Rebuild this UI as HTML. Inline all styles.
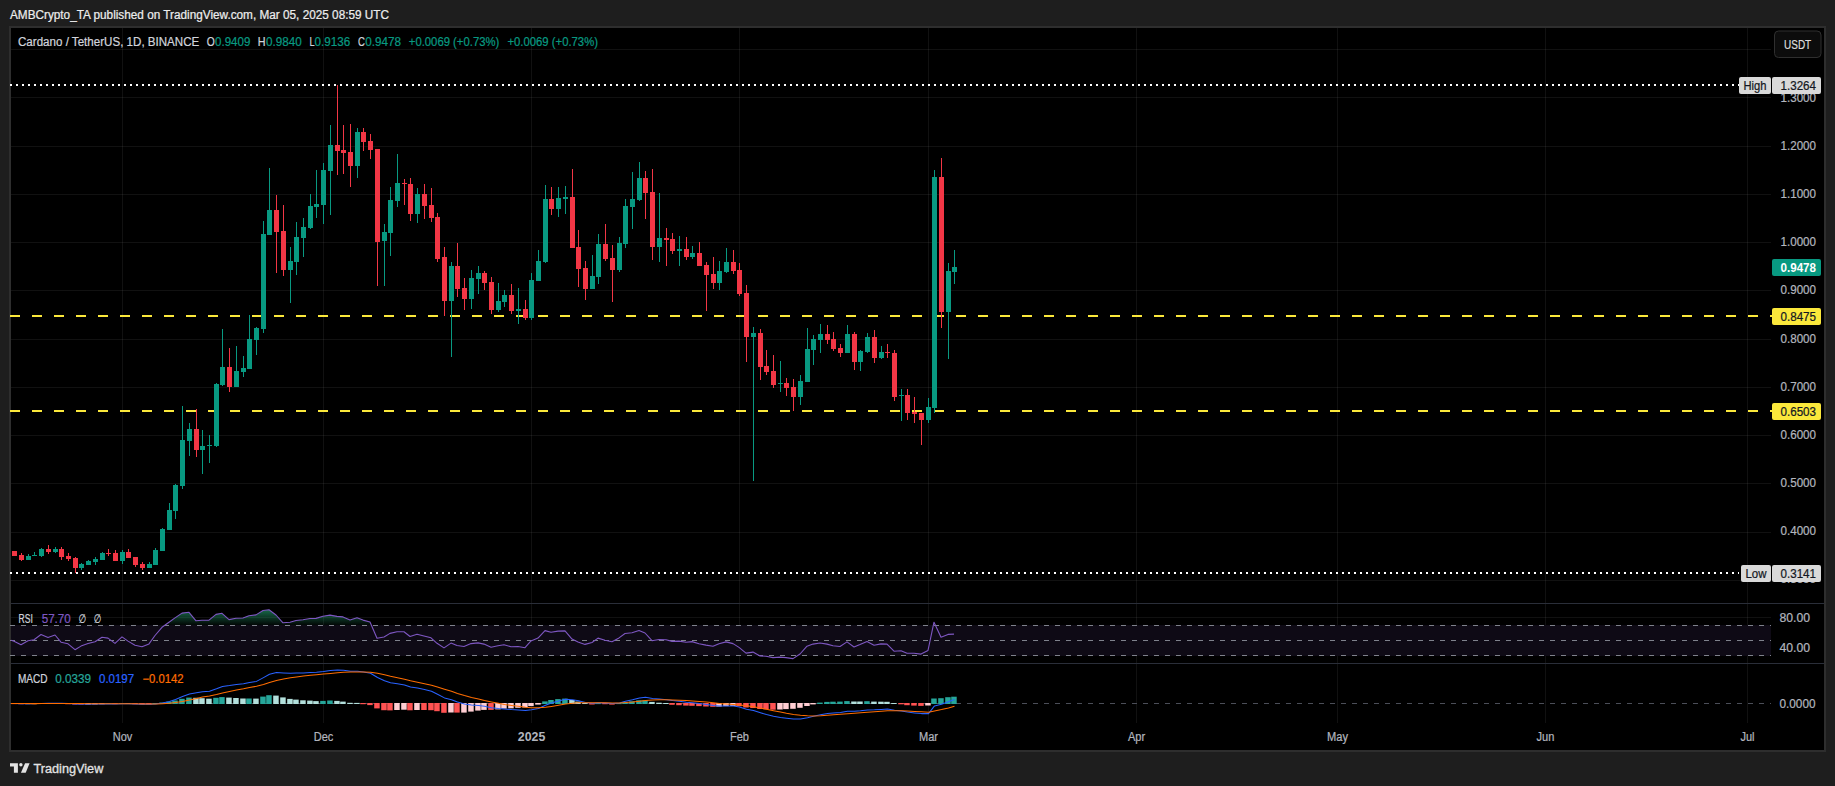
<!DOCTYPE html>
<html lang="en"><head><meta charset="utf-8"><title>Cardano / TetherUS chart</title>
<style>
html,body{margin:0;padding:0;background:#1e1e1e;overflow:hidden}
svg{display:block;font-family:'Liberation Sans', 'DejaVu Sans', sans-serif}
</style></head><body>
<svg width="1835" height="786" viewBox="0 0 1835 786">
<rect x="0" y="0" width="1835" height="786" fill="#1e1e1e"/>
<rect x="9" y="26" width="1817" height="726" fill="#2e2e2e"/>
<rect x="11" y="28" width="1813" height="722" fill="#000"/>
<g shape-rendering="crispEdges">
<rect x="122" y="28" width="1" height="695" fill="#fff" fill-opacity="0.065"/>
<rect x="323" y="28" width="1" height="695" fill="#fff" fill-opacity="0.065"/>
<rect x="531" y="28" width="1" height="695" fill="#fff" fill-opacity="0.065"/>
<rect x="739" y="28" width="1" height="695" fill="#fff" fill-opacity="0.065"/>
<rect x="928" y="28" width="1" height="695" fill="#fff" fill-opacity="0.065"/>
<rect x="1136" y="28" width="1" height="695" fill="#fff" fill-opacity="0.065"/>
<rect x="1337" y="28" width="1" height="695" fill="#fff" fill-opacity="0.065"/>
<rect x="1545" y="28" width="1" height="695" fill="#fff" fill-opacity="0.065"/>
<rect x="1747" y="28" width="1" height="695" fill="#fff" fill-opacity="0.065"/>
<rect x="11" y="49" width="1760" height="1" fill="#fff" fill-opacity="0.065"/>
<rect x="11" y="97" width="1760" height="1" fill="#fff" fill-opacity="0.065"/>
<rect x="11" y="146" width="1760" height="1" fill="#fff" fill-opacity="0.065"/>
<rect x="11" y="194" width="1760" height="1" fill="#fff" fill-opacity="0.065"/>
<rect x="11" y="242" width="1760" height="1" fill="#fff" fill-opacity="0.065"/>
<rect x="11" y="290" width="1760" height="1" fill="#fff" fill-opacity="0.065"/>
<rect x="11" y="339" width="1760" height="1" fill="#fff" fill-opacity="0.065"/>
<rect x="11" y="387" width="1760" height="1" fill="#fff" fill-opacity="0.065"/>
<rect x="11" y="435" width="1760" height="1" fill="#fff" fill-opacity="0.065"/>
<rect x="11" y="483" width="1760" height="1" fill="#fff" fill-opacity="0.065"/>
<rect x="11" y="532" width="1760" height="1" fill="#fff" fill-opacity="0.065"/>
<rect x="11" y="580" width="1760" height="1" fill="#fff" fill-opacity="0.065"/>
<rect x="11" y="617" width="1760" height="1" fill="#fff" fill-opacity="0.065"/>
<rect x="11" y="648" width="1760" height="1" fill="#fff" fill-opacity="0.065"/>
<rect x="11" y="603" width="1813" height="1" fill="#2a2e39"/>
<rect x="11" y="663" width="1813" height="1" fill="#2a2e39"/>
</g>
<rect x="11" y="625" width="1760" height="31" fill="#0e0a15"/>
<defs><linearGradient id="ob" gradientUnits="userSpaceOnUse" x1="0" y1="602.5" x2="0" y2="625.5"><stop offset="0" stop-color="#229668" stop-opacity="1"/><stop offset="1" stop-color="#229668" stop-opacity="0.03"/></linearGradient>
<clipPath id="cob"><rect x="11" y="604" width="1760" height="21.5"/></clipPath>
<linearGradient id="os" gradientUnits="userSpaceOnUse" x1="0" y1="655.4" x2="0" y2="663"><stop offset="0" stop-color="#b23b3b" stop-opacity="0.12"/><stop offset="1" stop-color="#b23b3b" stop-opacity="0.85"/></linearGradient>
<clipPath id="cos"><rect x="11" y="655.4" width="1760" height="7.6"/></clipPath></defs>
<polygon clip-path="url(#cob)" fill="url(#ob)" points="11.0,625.5 11.0,640.2 14.0,641.2 21.0,644.7 28.0,640.7 34.0,639.7 41.0,634.5 48.0,637.5 55.0,635.0 61.0,642.2 68.0,643.8 75.0,649.7 81.0,646.1 88.0,643.5 95.0,641.8 102.0,637.2 108.0,638.1 115.0,643.4 122.0,636.9 128.0,641.1 135.0,645.2 142.0,646.8 149.0,643.9 155.0,635.5 162.0,627.3 169.0,622.3 175.0,617.9 182.0,613.1 189.0,612.3 196.0,620.8 202.0,620.3 209.0,620.1 216.0,614.4 222.0,613.3 229.0,619.6 236.0,618.2 243.0,618.0 249.0,615.7 256.0,614.9 263.0,610.5 269.0,609.8 276.0,615.0 283.0,622.8 290.0,622.2 296.0,620.5 303.0,619.8 310.0,618.5 316.0,618.4 323.0,616.3 330.0,615.1 337.0,616.4 343.0,616.9 350.0,620.1 357.0,617.7 363.0,620.1 370.0,622.0 377.0,638.2 384.0,637.0 390.0,633.4 397.0,631.7 404.0,631.8 410.0,636.5 417.0,634.2 424.0,636.0 431.0,637.8 437.0,643.3 444.0,647.9 451.0,643.1 457.0,645.5 464.0,646.5 471.0,643.6 478.0,642.9 484.0,644.1 491.0,647.2 498.0,645.8 504.0,644.8 511.0,646.8 518.0,646.5 525.0,647.7 531.0,640.9 538.0,638.1 545.0,630.6 551.0,632.3 558.0,631.1 565.0,630.9 572.0,639.1 578.0,641.9 585.0,644.4 592.0,642.5 598.0,638.1 605.0,640.2 612.0,641.7 619.0,637.9 625.0,633.5 632.0,632.7 639.0,630.5 645.0,633.0 652.0,640.7 659.0,639.5 666.0,639.8 672.0,641.4 679.0,641.1 686.0,642.3 692.0,641.6 699.0,643.7 706.0,645.1 713.0,646.3 719.0,643.8 726.0,641.9 733.0,643.6 739.0,647.4 746.0,653.1 753.0,652.1 760.0,655.9 766.0,656.3 773.0,657.6 780.0,657.1 786.0,657.6 793.0,658.6 800.0,654.0 807.0,646.2 813.0,644.1 820.0,643.0 827.0,644.1 833.0,645.8 840.0,646.5 847.0,641.9 854.0,647.0 860.0,644.5 867.0,641.4 874.0,645.2 881.0,643.9 887.0,644.1 894.0,651.2 901.0,650.7 907.0,653.2 914.0,653.3 921.0,654.1 928.0,650.4 934.0,622.2 941.0,637.2 948.0,634.4 954.0,634.1 954.0,625.5"/>
<line x1="10" x2="1771" y1="625.5" y2="625.5" stroke="#7f828c" stroke-width="1" stroke-dasharray="5 6"/>
<line x1="10" x2="1771" y1="640.5" y2="640.5" stroke="#7f828c" stroke-width="1" stroke-dasharray="5 6"/>
<line x1="10" x2="1771" y1="655.5" y2="655.5" stroke="#7f828c" stroke-width="1" stroke-dasharray="5 6"/>
<polyline fill="none" stroke="#7e57c2" stroke-width="1.1" stroke-linejoin="round" points="11.0,640.2 14.0,641.2 21.0,644.7 28.0,640.7 34.0,639.7 41.0,634.5 48.0,637.5 55.0,635.0 61.0,642.2 68.0,643.8 75.0,649.7 81.0,646.1 88.0,643.5 95.0,641.8 102.0,637.2 108.0,638.1 115.0,643.4 122.0,636.9 128.0,641.1 135.0,645.2 142.0,646.8 149.0,643.9 155.0,635.5 162.0,627.3 169.0,622.3 175.0,617.9 182.0,613.1 189.0,612.3 196.0,620.8 202.0,620.3 209.0,620.1 216.0,614.4 222.0,613.3 229.0,619.6 236.0,618.2 243.0,618.0 249.0,615.7 256.0,614.9 263.0,610.5 269.0,609.8 276.0,615.0 283.0,622.8 290.0,622.2 296.0,620.5 303.0,619.8 310.0,618.5 316.0,618.4 323.0,616.3 330.0,615.1 337.0,616.4 343.0,616.9 350.0,620.1 357.0,617.7 363.0,620.1 370.0,622.0 377.0,638.2 384.0,637.0 390.0,633.4 397.0,631.7 404.0,631.8 410.0,636.5 417.0,634.2 424.0,636.0 431.0,637.8 437.0,643.3 444.0,647.9 451.0,643.1 457.0,645.5 464.0,646.5 471.0,643.6 478.0,642.9 484.0,644.1 491.0,647.2 498.0,645.8 504.0,644.8 511.0,646.8 518.0,646.5 525.0,647.7 531.0,640.9 538.0,638.1 545.0,630.6 551.0,632.3 558.0,631.1 565.0,630.9 572.0,639.1 578.0,641.9 585.0,644.4 592.0,642.5 598.0,638.1 605.0,640.2 612.0,641.7 619.0,637.9 625.0,633.5 632.0,632.7 639.0,630.5 645.0,633.0 652.0,640.7 659.0,639.5 666.0,639.8 672.0,641.4 679.0,641.1 686.0,642.3 692.0,641.6 699.0,643.7 706.0,645.1 713.0,646.3 719.0,643.8 726.0,641.9 733.0,643.6 739.0,647.4 746.0,653.1 753.0,652.1 760.0,655.9 766.0,656.3 773.0,657.6 780.0,657.1 786.0,657.6 793.0,658.6 800.0,654.0 807.0,646.2 813.0,644.1 820.0,643.0 827.0,644.1 833.0,645.8 840.0,646.5 847.0,641.9 854.0,647.0 860.0,644.5 867.0,641.4 874.0,645.2 881.0,643.9 887.0,644.1 894.0,651.2 901.0,650.7 907.0,653.2 914.0,653.3 921.0,654.1 928.0,650.4 934.0,622.2 941.0,637.2 948.0,634.4 954.0,634.1"/>
<line x1="10" x2="1771" y1="703.5" y2="703.5" stroke="#4b4e58" stroke-width="1" stroke-dasharray="5 6"/>
<g>
<rect x="11.2" y="703.0" width="5.5" height="1.1" fill="#ff5252"/>
<rect x="18.2" y="703.0" width="5.5" height="1.2" fill="#ff5252"/>
<rect x="25.2" y="703.0" width="5.5" height="1.2" fill="#ffcdd2"/>
<rect x="31.2" y="703.0" width="5.5" height="1.2" fill="#ffcdd2"/>
<rect x="38.2" y="703.0" width="5.5" height="1.0" fill="#26a69a"/>
<rect x="45.2" y="703.0" width="5.5" height="1.0" fill="#26a69a"/>
<rect x="52.2" y="703.0" width="5.5" height="1.0" fill="#26a69a"/>
<rect x="58.2" y="703.0" width="5.5" height="1.0" fill="#b2dfdb"/>
<rect x="65.2" y="703.0" width="5.5" height="1.2" fill="#ff5252"/>
<rect x="72.2" y="703.0" width="5.5" height="1.5" fill="#ff5252"/>
<rect x="78.2" y="703.0" width="5.5" height="1.6" fill="#ff5252"/>
<rect x="85.2" y="703.0" width="5.5" height="1.5" fill="#ffcdd2"/>
<rect x="92.2" y="703.0" width="5.5" height="1.4" fill="#ffcdd2"/>
<rect x="99.2" y="703.0" width="5.5" height="1.2" fill="#ffcdd2"/>
<rect x="105.2" y="703.0" width="5.5" height="1.0" fill="#26a69a"/>
<rect x="112.2" y="703.0" width="5.5" height="1.1" fill="#ff5252"/>
<rect x="119.2" y="703.0" width="5.5" height="1.0" fill="#26a69a"/>
<rect x="125.2" y="703.0" width="5.5" height="1.0" fill="#b2dfdb"/>
<rect x="132.2" y="703.0" width="5.5" height="1.2" fill="#ff5252"/>
<rect x="139.2" y="703.0" width="5.5" height="1.4" fill="#ff5252"/>
<rect x="146.2" y="703.0" width="5.5" height="1.4" fill="#ff5252"/>
<rect x="152.2" y="703.0" width="5.5" height="1.0" fill="#26a69a"/>
<rect x="159.2" y="702.6" width="5.5" height="1.4" fill="#26a69a"/>
<rect x="166.2" y="701.7" width="5.5" height="2.3" fill="#26a69a"/>
<rect x="172.2" y="700.5" width="5.5" height="3.5" fill="#26a69a"/>
<rect x="179.2" y="698.8" width="5.5" height="5.2" fill="#26a69a"/>
<rect x="186.2" y="697.6" width="5.5" height="6.4" fill="#26a69a"/>
<rect x="193.2" y="697.8" width="5.5" height="6.2" fill="#b2dfdb"/>
<rect x="199.2" y="698.2" width="5.5" height="5.8" fill="#b2dfdb"/>
<rect x="206.2" y="698.7" width="5.5" height="5.3" fill="#b2dfdb"/>
<rect x="213.2" y="697.8" width="5.5" height="6.2" fill="#26a69a"/>
<rect x="219.2" y="697.1" width="5.5" height="6.9" fill="#26a69a"/>
<rect x="226.2" y="697.6" width="5.5" height="6.4" fill="#b2dfdb"/>
<rect x="233.2" y="698.0" width="5.5" height="6.0" fill="#b2dfdb"/>
<rect x="240.2" y="698.5" width="5.5" height="5.5" fill="#b2dfdb"/>
<rect x="246.2" y="698.5" width="5.5" height="5.5" fill="#26a69a"/>
<rect x="253.2" y="698.6" width="5.5" height="5.4" fill="#b2dfdb"/>
<rect x="260.2" y="696.6" width="5.5" height="7.4" fill="#26a69a"/>
<rect x="266.2" y="695.2" width="5.5" height="8.8" fill="#26a69a"/>
<rect x="273.2" y="695.6" width="5.5" height="8.4" fill="#b2dfdb"/>
<rect x="280.2" y="697.4" width="5.5" height="6.6" fill="#b2dfdb"/>
<rect x="287.2" y="698.9" width="5.5" height="5.1" fill="#b2dfdb"/>
<rect x="293.2" y="699.6" width="5.5" height="4.4" fill="#b2dfdb"/>
<rect x="300.2" y="700.3" width="5.5" height="3.7" fill="#b2dfdb"/>
<rect x="307.2" y="700.6" width="5.5" height="3.4" fill="#b2dfdb"/>
<rect x="313.2" y="701.1" width="5.5" height="2.9" fill="#b2dfdb"/>
<rect x="320.2" y="700.9" width="5.5" height="3.1" fill="#26a69a"/>
<rect x="327.2" y="700.5" width="5.5" height="3.5" fill="#26a69a"/>
<rect x="334.2" y="700.9" width="5.5" height="3.1" fill="#b2dfdb"/>
<rect x="340.2" y="701.6" width="5.5" height="2.4" fill="#b2dfdb"/>
<rect x="347.2" y="702.8" width="5.5" height="1.2" fill="#b2dfdb"/>
<rect x="354.2" y="702.9" width="5.5" height="1.1" fill="#b2dfdb"/>
<rect x="360.2" y="703.0" width="5.5" height="1.2" fill="#ff5252"/>
<rect x="367.2" y="703.0" width="5.5" height="2.1" fill="#ff5252"/>
<rect x="374.2" y="703.0" width="5.5" height="5.4" fill="#ff5252"/>
<rect x="381.2" y="703.0" width="5.5" height="7.2" fill="#ff5252"/>
<rect x="387.2" y="703.0" width="5.5" height="7.4" fill="#ff5252"/>
<rect x="394.2" y="703.0" width="5.5" height="7.0" fill="#ffcdd2"/>
<rect x="401.2" y="703.0" width="5.5" height="6.7" fill="#ffcdd2"/>
<rect x="407.2" y="703.0" width="5.5" height="7.3" fill="#ff5252"/>
<rect x="414.2" y="703.0" width="5.5" height="7.0" fill="#ffcdd2"/>
<rect x="421.2" y="703.0" width="5.5" height="7.0" fill="#ff5252"/>
<rect x="428.2" y="703.0" width="5.5" height="7.2" fill="#ff5252"/>
<rect x="434.2" y="703.0" width="5.5" height="8.2" fill="#ff5252"/>
<rect x="441.2" y="703.0" width="5.5" height="9.8" fill="#ff5252"/>
<rect x="448.2" y="703.0" width="5.5" height="9.5" fill="#ffcdd2"/>
<rect x="454.2" y="703.0" width="5.5" height="9.6" fill="#ff5252"/>
<rect x="461.2" y="703.0" width="5.5" height="9.6" fill="#ffcdd2"/>
<rect x="468.2" y="703.0" width="5.5" height="8.6" fill="#ffcdd2"/>
<rect x="475.2" y="703.0" width="5.5" height="7.6" fill="#ffcdd2"/>
<rect x="481.2" y="703.0" width="5.5" height="6.9" fill="#ffcdd2"/>
<rect x="488.2" y="703.0" width="5.5" height="6.9" fill="#ff5252"/>
<rect x="495.2" y="703.0" width="5.5" height="6.4" fill="#ffcdd2"/>
<rect x="501.2" y="703.0" width="5.5" height="5.6" fill="#ffcdd2"/>
<rect x="508.2" y="703.0" width="5.5" height="5.3" fill="#ffcdd2"/>
<rect x="515.2" y="703.0" width="5.5" height="4.8" fill="#ffcdd2"/>
<rect x="522.2" y="703.0" width="5.5" height="4.5" fill="#ffcdd2"/>
<rect x="528.2" y="703.0" width="5.5" height="3.1" fill="#ffcdd2"/>
<rect x="535.2" y="703.0" width="5.5" height="1.6" fill="#ffcdd2"/>
<rect x="542.2" y="701.4" width="5.5" height="2.6" fill="#26a69a"/>
<rect x="548.2" y="700.0" width="5.5" height="4.0" fill="#26a69a"/>
<rect x="555.2" y="699.1" width="5.5" height="4.9" fill="#26a69a"/>
<rect x="562.2" y="698.6" width="5.5" height="5.4" fill="#26a69a"/>
<rect x="569.2" y="700.0" width="5.5" height="4.0" fill="#b2dfdb"/>
<rect x="575.2" y="701.6" width="5.5" height="2.4" fill="#b2dfdb"/>
<rect x="582.2" y="703.0" width="5.5" height="1.0" fill="#b2dfdb"/>
<rect x="589.2" y="703.0" width="5.5" height="1.5" fill="#ff5252"/>
<rect x="595.2" y="703.0" width="5.5" height="1.1" fill="#26a69a"/>
<rect x="602.2" y="703.0" width="5.5" height="1.2" fill="#ff5252"/>
<rect x="609.2" y="703.0" width="5.5" height="1.6" fill="#ff5252"/>
<rect x="616.2" y="703.0" width="5.5" height="1.1" fill="#26a69a"/>
<rect x="622.2" y="702.2" width="5.5" height="1.8" fill="#26a69a"/>
<rect x="629.2" y="701.3" width="5.5" height="2.7" fill="#26a69a"/>
<rect x="636.2" y="700.3" width="5.5" height="3.7" fill="#26a69a"/>
<rect x="642.2" y="700.3" width="5.5" height="3.7" fill="#26a69a"/>
<rect x="649.2" y="701.9" width="5.5" height="2.1" fill="#b2dfdb"/>
<rect x="656.2" y="702.7" width="5.5" height="1.3" fill="#b2dfdb"/>
<rect x="663.2" y="703.0" width="5.5" height="1.0" fill="#b2dfdb"/>
<rect x="669.2" y="703.0" width="5.5" height="1.8" fill="#ff5252"/>
<rect x="676.2" y="703.0" width="5.5" height="2.2" fill="#ff5252"/>
<rect x="683.2" y="703.0" width="5.5" height="2.6" fill="#ff5252"/>
<rect x="689.2" y="703.0" width="5.5" height="2.8" fill="#ff5252"/>
<rect x="696.2" y="703.0" width="5.5" height="3.1" fill="#ff5252"/>
<rect x="703.2" y="703.0" width="5.5" height="3.5" fill="#ff5252"/>
<rect x="710.2" y="703.0" width="5.5" height="3.8" fill="#ff5252"/>
<rect x="716.2" y="703.0" width="5.5" height="3.6" fill="#ffcdd2"/>
<rect x="723.2" y="703.0" width="5.5" height="3.1" fill="#ffcdd2"/>
<rect x="730.2" y="703.0" width="5.5" height="2.9" fill="#ffcdd2"/>
<rect x="736.2" y="703.0" width="5.5" height="3.2" fill="#ff5252"/>
<rect x="743.2" y="703.0" width="5.5" height="4.5" fill="#ff5252"/>
<rect x="750.2" y="703.0" width="5.5" height="5.0" fill="#ff5252"/>
<rect x="757.2" y="703.0" width="5.5" height="6.0" fill="#ff5252"/>
<rect x="763.2" y="703.0" width="5.5" height="6.4" fill="#ff5252"/>
<rect x="770.2" y="703.0" width="5.5" height="6.7" fill="#ff5252"/>
<rect x="777.2" y="703.0" width="5.5" height="6.5" fill="#ffcdd2"/>
<rect x="783.2" y="703.0" width="5.5" height="6.1" fill="#ffcdd2"/>
<rect x="790.2" y="703.0" width="5.5" height="5.8" fill="#ffcdd2"/>
<rect x="797.2" y="703.0" width="5.5" height="4.8" fill="#ffcdd2"/>
<rect x="804.2" y="703.0" width="5.5" height="3.0" fill="#ffcdd2"/>
<rect x="810.2" y="703.0" width="5.5" height="1.4" fill="#ffcdd2"/>
<rect x="817.2" y="702.6" width="5.5" height="1.4" fill="#26a69a"/>
<rect x="824.2" y="701.9" width="5.5" height="2.1" fill="#26a69a"/>
<rect x="830.2" y="701.7" width="5.5" height="2.3" fill="#26a69a"/>
<rect x="837.2" y="701.6" width="5.5" height="2.4" fill="#26a69a"/>
<rect x="844.2" y="701.1" width="5.5" height="2.9" fill="#26a69a"/>
<rect x="851.2" y="701.5" width="5.5" height="2.5" fill="#b2dfdb"/>
<rect x="857.2" y="701.5" width="5.5" height="2.5" fill="#b2dfdb"/>
<rect x="864.2" y="701.2" width="5.5" height="2.8" fill="#26a69a"/>
<rect x="871.2" y="701.6" width="5.5" height="2.4" fill="#b2dfdb"/>
<rect x="878.2" y="701.7" width="5.5" height="2.3" fill="#b2dfdb"/>
<rect x="884.2" y="701.8" width="5.5" height="2.2" fill="#b2dfdb"/>
<rect x="891.2" y="703.0" width="5.5" height="1.0" fill="#b2dfdb"/>
<rect x="898.2" y="703.0" width="5.5" height="1.3" fill="#ff5252"/>
<rect x="904.2" y="703.0" width="5.5" height="2.2" fill="#ff5252"/>
<rect x="911.2" y="703.0" width="5.5" height="2.6" fill="#ff5252"/>
<rect x="918.2" y="703.0" width="5.5" height="2.9" fill="#ff5252"/>
<rect x="925.2" y="703.0" width="5.5" height="2.5" fill="#ffcdd2"/>
<rect x="931.2" y="698.5" width="5.5" height="5.5" fill="#26a69a"/>
<rect x="938.2" y="698.2" width="5.5" height="5.8" fill="#26a69a"/>
<rect x="945.2" y="697.2" width="5.5" height="6.8" fill="#26a69a"/>
<rect x="951.2" y="696.7" width="5.5" height="7.3" fill="#26a69a"/>
</g>
<polyline fill="none" stroke="#2962ff" stroke-width="1.05" stroke-linejoin="round" points="11,703.5 14.5,703.5 21.5,703.7 28.5,703.7 34.5,703.6 41.5,703.4 48.5,703.3 55.5,703.2 61.5,703.3 68.5,703.5 75.5,703.9 81.5,704.1 88.5,704.2 95.5,704.1 102.5,703.9 108.5,703.8 115.5,703.9 122.5,703.7 128.5,703.7 135.5,703.9 142.5,704.2 149.5,704.3 155.5,703.9 162.5,702.9 169.5,701.5 175.5,699.6 182.5,696.6 189.5,694.0 196.5,692.8 202.5,691.8 209.5,691.2 216.5,688.8 222.5,686.5 229.5,685.6 236.5,684.5 243.5,683.8 249.5,682.5 256.5,681.4 263.5,677.6 269.5,674.2 276.5,672.6 283.5,672.9 290.5,673.2 296.5,673.0 303.5,672.9 310.5,672.4 316.5,672.3 323.5,671.5 330.5,670.4 337.5,670.1 343.5,670.3 350.5,671.3 357.5,671.3 363.5,672.0 370.5,673.2 377.5,677.5 384.5,680.8 390.5,682.7 397.5,683.8 404.5,684.9 410.5,687.0 417.5,688.1 424.5,689.6 431.5,691.3 437.5,694.2 444.5,697.9 451.5,699.7 457.5,701.9 464.5,704.0 471.5,705.0 478.5,705.5 484.5,706.3 491.5,707.7 498.5,708.5 504.5,708.9 511.5,709.6 518.5,710.1 525.5,710.6 531.5,709.8 538.5,708.4 545.5,705.2 551.5,703.0 558.5,700.9 565.5,699.3 572.5,699.7 578.5,700.8 585.5,702.4 592.5,703.2 598.5,702.7 605.5,702.9 612.5,703.4 619.5,702.9 625.5,701.3 632.5,699.8 639.5,698.0 645.5,697.2 652.5,698.4 659.5,699.1 666.5,699.7 672.5,700.6 679.5,701.3 686.5,702.2 692.5,702.7 699.5,703.6 706.5,704.5 713.5,705.5 719.5,705.9 726.5,705.9 733.5,706.1 739.5,707.0 746.5,709.2 753.5,710.6 760.5,712.8 766.5,714.6 773.5,716.2 780.5,717.4 786.5,718.2 793.5,719.1 800.5,719.0 807.5,717.7 813.5,716.2 820.5,714.7 827.5,713.6 833.5,713.0 840.5,712.4 847.5,711.3 854.5,711.3 860.5,710.8 867.5,709.9 874.5,709.8 881.5,709.4 887.5,709.1 894.5,710.2 901.5,711.0 907.5,712.1 914.5,712.9 921.5,713.6 928.5,713.6 934.5,705.9 941.5,704.3 948.5,701.7 954.5,699.6"/>
<polyline fill="none" stroke="#ff6d00" stroke-width="1.05" stroke-linejoin="round" points="11,703.5 14.5,703.5 21.5,703.5 28.5,703.6 34.5,703.6 41.5,703.5 48.5,703.5 55.5,703.4 61.5,703.4 68.5,703.4 75.5,703.5 81.5,703.6 88.5,703.7 95.5,703.8 102.5,703.8 108.5,703.8 115.5,703.8 122.5,703.8 128.5,703.8 135.5,703.8 142.5,703.9 149.5,704.0 155.5,704.0 162.5,703.7 169.5,703.3 175.5,702.5 182.5,701.4 189.5,699.9 196.5,698.5 202.5,697.1 209.5,695.9 216.5,694.5 222.5,692.9 229.5,691.4 236.5,690.1 243.5,688.8 249.5,687.5 256.5,686.3 263.5,684.6 269.5,682.5 276.5,680.5 283.5,679.0 290.5,677.8 296.5,676.9 303.5,676.1 310.5,675.3 316.5,674.7 323.5,674.1 330.5,673.4 337.5,672.7 343.5,672.2 350.5,672.0 357.5,671.9 363.5,671.9 370.5,672.2 377.5,673.2 384.5,674.8 390.5,676.3 397.5,677.8 404.5,679.2 410.5,680.8 417.5,682.2 424.5,683.7 431.5,685.2 437.5,687.0 444.5,689.2 451.5,691.3 457.5,693.4 464.5,695.5 471.5,697.4 478.5,699.0 484.5,700.5 491.5,701.9 498.5,703.2 504.5,704.4 511.5,705.4 518.5,706.3 525.5,707.2 531.5,707.7 538.5,707.8 545.5,707.3 551.5,706.4 558.5,705.3 565.5,704.1 572.5,703.2 578.5,702.7 585.5,702.7 592.5,702.8 598.5,702.8 605.5,702.8 612.5,702.9 619.5,702.9 625.5,702.6 632.5,702.0 639.5,701.2 645.5,700.4 652.5,700.0 659.5,699.8 666.5,699.8 672.5,700.0 679.5,700.2 686.5,700.6 692.5,701.0 699.5,701.5 706.5,702.1 713.5,702.8 719.5,703.4 726.5,703.9 733.5,704.4 739.5,704.9 746.5,705.8 753.5,706.7 760.5,707.9 766.5,709.3 773.5,710.7 780.5,712.0 786.5,713.2 793.5,714.4 800.5,715.3 807.5,715.8 813.5,715.9 820.5,715.7 827.5,715.2 833.5,714.8 840.5,714.3 847.5,713.7 854.5,713.2 860.5,712.7 867.5,712.2 874.5,711.7 881.5,711.2 887.5,710.8 894.5,710.7 901.5,710.8 907.5,711.0 914.5,711.4 921.5,711.8 928.5,712.2 934.5,710.9 941.5,709.6 948.5,708.0 954.5,706.3"/>
<g shape-rendering="crispEdges">
<line x1="10" x2="1739" y1="85" y2="85" stroke="#fff" stroke-width="2" stroke-dasharray="2 4"/>
<line x1="10" x2="1739" y1="573" y2="573" stroke="#fff" stroke-width="2" stroke-dasharray="2 4"/>
<line x1="10" x2="1772" y1="316" y2="316" stroke="#fbe83b" stroke-width="2" stroke-dasharray="10 12"/>
<line x1="10" x2="1772" y1="411" y2="411" stroke="#fbe83b" stroke-width="2" stroke-dasharray="10 12"/>
<rect x="14" y="551" width="1" height="5" fill="#f23645"/>
<rect x="12" y="551" width="5" height="5" fill="#f23645"/>
<rect x="21" y="553" width="1" height="8" fill="#f23645"/>
<rect x="19" y="555" width="5" height="5" fill="#f23645"/>
<rect x="28" y="554" width="1" height="6" fill="#089981"/>
<rect x="26" y="556" width="5" height="4" fill="#089981"/>
<rect x="34" y="552" width="1" height="4" fill="#089981"/>
<rect x="32" y="555" width="5" height="1" fill="#089981"/>
<rect x="41" y="548" width="1" height="9" fill="#089981"/>
<rect x="39" y="549" width="5" height="7" fill="#089981"/>
<rect x="48" y="545" width="1" height="9" fill="#f23645"/>
<rect x="46" y="549" width="5" height="3" fill="#f23645"/>
<rect x="55" y="547" width="1" height="6" fill="#089981"/>
<rect x="53" y="549" width="5" height="3" fill="#089981"/>
<rect x="61" y="547" width="1" height="13" fill="#f23645"/>
<rect x="59" y="549" width="5" height="8" fill="#f23645"/>
<rect x="68" y="553" width="1" height="8" fill="#f23645"/>
<rect x="66" y="556" width="5" height="3" fill="#f23645"/>
<rect x="75" y="557" width="1" height="16" fill="#f23645"/>
<rect x="73" y="558" width="5" height="10" fill="#f23645"/>
<rect x="81" y="563" width="1" height="7" fill="#089981"/>
<rect x="79" y="564" width="5" height="4" fill="#089981"/>
<rect x="88" y="560" width="1" height="5" fill="#089981"/>
<rect x="86" y="561" width="5" height="4" fill="#089981"/>
<rect x="95" y="557" width="1" height="8" fill="#089981"/>
<rect x="93" y="559" width="5" height="3" fill="#089981"/>
<rect x="102" y="552" width="1" height="8" fill="#089981"/>
<rect x="100" y="553" width="5" height="7" fill="#089981"/>
<rect x="108" y="549" width="1" height="7" fill="#f23645"/>
<rect x="106" y="553" width="5" height="1" fill="#f23645"/>
<rect x="115" y="550" width="1" height="11" fill="#f23645"/>
<rect x="113" y="553" width="5" height="8" fill="#f23645"/>
<rect x="122" y="550" width="1" height="14" fill="#089981"/>
<rect x="120" y="552" width="5" height="9" fill="#089981"/>
<rect x="128" y="549" width="1" height="9" fill="#f23645"/>
<rect x="126" y="552" width="5" height="6" fill="#f23645"/>
<rect x="135" y="557" width="1" height="10" fill="#f23645"/>
<rect x="133" y="557" width="5" height="8" fill="#f23645"/>
<rect x="142" y="562" width="1" height="8" fill="#f23645"/>
<rect x="140" y="564" width="5" height="4" fill="#f23645"/>
<rect x="149" y="562" width="1" height="6" fill="#089981"/>
<rect x="147" y="564" width="5" height="4" fill="#089981"/>
<rect x="155" y="548" width="1" height="17" fill="#089981"/>
<rect x="153" y="550" width="5" height="15" fill="#089981"/>
<rect x="162" y="528" width="1" height="23" fill="#089981"/>
<rect x="160" y="529" width="5" height="22" fill="#089981"/>
<rect x="169" y="503" width="1" height="27" fill="#089981"/>
<rect x="167" y="510" width="5" height="20" fill="#089981"/>
<rect x="175" y="484" width="1" height="35" fill="#089981"/>
<rect x="173" y="485" width="5" height="26" fill="#089981"/>
<rect x="182" y="406" width="1" height="83" fill="#089981"/>
<rect x="180" y="440" width="5" height="46" fill="#089981"/>
<rect x="189" y="423" width="1" height="33" fill="#089981"/>
<rect x="187" y="429" width="5" height="12" fill="#089981"/>
<rect x="196" y="409" width="1" height="48" fill="#f23645"/>
<rect x="194" y="429" width="5" height="21" fill="#f23645"/>
<rect x="202" y="430" width="1" height="44" fill="#089981"/>
<rect x="200" y="446" width="5" height="4" fill="#089981"/>
<rect x="209" y="435" width="1" height="28" fill="#089981"/>
<rect x="207" y="445" width="5" height="1" fill="#089981"/>
<rect x="216" y="383" width="1" height="64" fill="#089981"/>
<rect x="214" y="384" width="5" height="62" fill="#089981"/>
<rect x="222" y="329" width="1" height="57" fill="#089981"/>
<rect x="220" y="367" width="5" height="18" fill="#089981"/>
<rect x="229" y="348" width="1" height="44" fill="#f23645"/>
<rect x="227" y="367" width="5" height="20" fill="#f23645"/>
<rect x="236" y="346" width="1" height="41" fill="#089981"/>
<rect x="234" y="371" width="5" height="16" fill="#089981"/>
<rect x="243" y="356" width="1" height="21" fill="#089981"/>
<rect x="241" y="368" width="5" height="4" fill="#089981"/>
<rect x="249" y="315" width="1" height="54" fill="#089981"/>
<rect x="247" y="339" width="5" height="30" fill="#089981"/>
<rect x="256" y="327" width="1" height="28" fill="#089981"/>
<rect x="254" y="328" width="5" height="12" fill="#089981"/>
<rect x="263" y="221" width="1" height="112" fill="#089981"/>
<rect x="261" y="234" width="5" height="95" fill="#089981"/>
<rect x="269" y="168" width="1" height="67" fill="#089981"/>
<rect x="267" y="210" width="5" height="25" fill="#089981"/>
<rect x="276" y="195" width="1" height="78" fill="#f23645"/>
<rect x="274" y="210" width="5" height="22" fill="#f23645"/>
<rect x="283" y="205" width="1" height="71" fill="#f23645"/>
<rect x="281" y="231" width="5" height="39" fill="#f23645"/>
<rect x="290" y="247" width="1" height="56" fill="#089981"/>
<rect x="288" y="261" width="5" height="9" fill="#089981"/>
<rect x="296" y="222" width="1" height="53" fill="#089981"/>
<rect x="294" y="237" width="5" height="25" fill="#089981"/>
<rect x="303" y="218" width="1" height="39" fill="#089981"/>
<rect x="301" y="227" width="5" height="11" fill="#089981"/>
<rect x="310" y="194" width="1" height="35" fill="#089981"/>
<rect x="308" y="206" width="5" height="22" fill="#089981"/>
<rect x="316" y="170" width="1" height="48" fill="#089981"/>
<rect x="314" y="204" width="5" height="3" fill="#089981"/>
<rect x="323" y="163" width="1" height="61" fill="#089981"/>
<rect x="321" y="170" width="5" height="35" fill="#089981"/>
<rect x="330" y="125" width="1" height="90" fill="#089981"/>
<rect x="328" y="145" width="5" height="26" fill="#089981"/>
<rect x="337" y="85" width="1" height="90" fill="#f23645"/>
<rect x="335" y="145" width="5" height="6" fill="#f23645"/>
<rect x="343" y="125" width="1" height="49" fill="#f23645"/>
<rect x="341" y="150" width="5" height="3" fill="#f23645"/>
<rect x="350" y="124" width="1" height="63" fill="#f23645"/>
<rect x="348" y="152" width="5" height="14" fill="#f23645"/>
<rect x="357" y="128" width="1" height="50" fill="#089981"/>
<rect x="355" y="132" width="5" height="34" fill="#089981"/>
<rect x="363" y="128" width="1" height="23" fill="#f23645"/>
<rect x="361" y="132" width="5" height="10" fill="#f23645"/>
<rect x="370" y="134" width="1" height="25" fill="#f23645"/>
<rect x="368" y="141" width="5" height="9" fill="#f23645"/>
<rect x="377" y="149" width="1" height="137" fill="#f23645"/>
<rect x="375" y="149" width="5" height="93" fill="#f23645"/>
<rect x="384" y="224" width="1" height="62" fill="#089981"/>
<rect x="382" y="232" width="5" height="9" fill="#089981"/>
<rect x="390" y="187" width="1" height="69" fill="#089981"/>
<rect x="388" y="200" width="5" height="33" fill="#089981"/>
<rect x="397" y="154" width="1" height="53" fill="#089981"/>
<rect x="395" y="183" width="5" height="18" fill="#089981"/>
<rect x="404" y="179" width="1" height="26" fill="#f23645"/>
<rect x="402" y="183" width="5" height="1" fill="#f23645"/>
<rect x="410" y="178" width="1" height="43" fill="#f23645"/>
<rect x="408" y="184" width="5" height="30" fill="#f23645"/>
<rect x="417" y="188" width="1" height="35" fill="#089981"/>
<rect x="415" y="194" width="5" height="20" fill="#089981"/>
<rect x="424" y="184" width="1" height="35" fill="#f23645"/>
<rect x="422" y="194" width="5" height="12" fill="#f23645"/>
<rect x="431" y="188" width="1" height="34" fill="#f23645"/>
<rect x="429" y="205" width="5" height="13" fill="#f23645"/>
<rect x="437" y="213" width="1" height="49" fill="#f23645"/>
<rect x="435" y="217" width="5" height="42" fill="#f23645"/>
<rect x="444" y="247" width="1" height="69" fill="#f23645"/>
<rect x="442" y="257" width="5" height="44" fill="#f23645"/>
<rect x="451" y="262" width="1" height="95" fill="#089981"/>
<rect x="449" y="266" width="5" height="35" fill="#089981"/>
<rect x="457" y="243" width="1" height="54" fill="#f23645"/>
<rect x="455" y="266" width="5" height="23" fill="#f23645"/>
<rect x="464" y="278" width="1" height="32" fill="#f23645"/>
<rect x="462" y="288" width="5" height="11" fill="#f23645"/>
<rect x="471" y="270" width="1" height="39" fill="#089981"/>
<rect x="469" y="278" width="5" height="21" fill="#089981"/>
<rect x="478" y="266" width="1" height="28" fill="#089981"/>
<rect x="476" y="273" width="5" height="6" fill="#089981"/>
<rect x="484" y="271" width="1" height="19" fill="#f23645"/>
<rect x="482" y="273" width="5" height="10" fill="#f23645"/>
<rect x="491" y="277" width="1" height="37" fill="#f23645"/>
<rect x="489" y="282" width="5" height="28" fill="#f23645"/>
<rect x="498" y="283" width="1" height="29" fill="#089981"/>
<rect x="496" y="301" width="5" height="9" fill="#089981"/>
<rect x="504" y="290" width="1" height="17" fill="#089981"/>
<rect x="502" y="295" width="5" height="7" fill="#089981"/>
<rect x="511" y="284" width="1" height="30" fill="#f23645"/>
<rect x="509" y="295" width="5" height="16" fill="#f23645"/>
<rect x="518" y="288" width="1" height="36" fill="#089981"/>
<rect x="516" y="309" width="5" height="2" fill="#089981"/>
<rect x="525" y="300" width="1" height="20" fill="#f23645"/>
<rect x="523" y="309" width="5" height="9" fill="#f23645"/>
<rect x="531" y="273" width="1" height="47" fill="#089981"/>
<rect x="529" y="280" width="5" height="38" fill="#089981"/>
<rect x="538" y="250" width="1" height="31" fill="#089981"/>
<rect x="536" y="261" width="5" height="20" fill="#089981"/>
<rect x="545" y="185" width="1" height="78" fill="#089981"/>
<rect x="543" y="199" width="5" height="63" fill="#089981"/>
<rect x="551" y="187" width="1" height="28" fill="#f23645"/>
<rect x="549" y="199" width="5" height="10" fill="#f23645"/>
<rect x="558" y="187" width="1" height="30" fill="#089981"/>
<rect x="556" y="198" width="5" height="11" fill="#089981"/>
<rect x="565" y="186" width="1" height="28" fill="#089981"/>
<rect x="563" y="197" width="5" height="2" fill="#089981"/>
<rect x="572" y="169" width="1" height="79" fill="#f23645"/>
<rect x="570" y="197" width="5" height="51" fill="#f23645"/>
<rect x="578" y="230" width="1" height="57" fill="#f23645"/>
<rect x="576" y="247" width="5" height="22" fill="#f23645"/>
<rect x="585" y="261" width="1" height="39" fill="#f23645"/>
<rect x="583" y="268" width="5" height="21" fill="#f23645"/>
<rect x="592" y="255" width="1" height="34" fill="#089981"/>
<rect x="590" y="276" width="5" height="13" fill="#089981"/>
<rect x="598" y="234" width="1" height="50" fill="#089981"/>
<rect x="596" y="244" width="5" height="33" fill="#089981"/>
<rect x="605" y="224" width="1" height="37" fill="#f23645"/>
<rect x="603" y="244" width="5" height="15" fill="#f23645"/>
<rect x="612" y="245" width="1" height="57" fill="#f23645"/>
<rect x="610" y="258" width="5" height="12" fill="#f23645"/>
<rect x="619" y="237" width="1" height="35" fill="#089981"/>
<rect x="617" y="243" width="5" height="27" fill="#089981"/>
<rect x="625" y="199" width="1" height="49" fill="#089981"/>
<rect x="623" y="206" width="5" height="38" fill="#089981"/>
<rect x="632" y="172" width="1" height="57" fill="#089981"/>
<rect x="630" y="199" width="5" height="8" fill="#089981"/>
<rect x="639" y="162" width="1" height="39" fill="#089981"/>
<rect x="637" y="178" width="5" height="22" fill="#089981"/>
<rect x="645" y="171" width="1" height="48" fill="#f23645"/>
<rect x="643" y="178" width="5" height="15" fill="#f23645"/>
<rect x="652" y="169" width="1" height="91" fill="#f23645"/>
<rect x="650" y="192" width="5" height="55" fill="#f23645"/>
<rect x="659" y="193" width="1" height="69" fill="#089981"/>
<rect x="657" y="238" width="5" height="9" fill="#089981"/>
<rect x="666" y="228" width="1" height="38" fill="#f23645"/>
<rect x="664" y="238" width="5" height="2" fill="#f23645"/>
<rect x="672" y="233" width="1" height="21" fill="#f23645"/>
<rect x="670" y="239" width="5" height="12" fill="#f23645"/>
<rect x="679" y="236" width="1" height="30" fill="#089981"/>
<rect x="677" y="249" width="5" height="2" fill="#089981"/>
<rect x="686" y="237" width="1" height="23" fill="#f23645"/>
<rect x="684" y="249" width="5" height="8" fill="#f23645"/>
<rect x="692" y="246" width="1" height="13" fill="#089981"/>
<rect x="690" y="253" width="5" height="4" fill="#089981"/>
<rect x="699" y="242" width="1" height="24" fill="#f23645"/>
<rect x="697" y="253" width="5" height="13" fill="#f23645"/>
<rect x="706" y="262" width="1" height="49" fill="#f23645"/>
<rect x="704" y="265" width="5" height="10" fill="#f23645"/>
<rect x="713" y="257" width="1" height="32" fill="#f23645"/>
<rect x="711" y="274" width="5" height="9" fill="#f23645"/>
<rect x="719" y="261" width="1" height="29" fill="#089981"/>
<rect x="717" y="271" width="5" height="12" fill="#089981"/>
<rect x="726" y="248" width="1" height="25" fill="#089981"/>
<rect x="724" y="262" width="5" height="10" fill="#089981"/>
<rect x="733" y="250" width="1" height="24" fill="#f23645"/>
<rect x="731" y="262" width="5" height="9" fill="#f23645"/>
<rect x="739" y="263" width="1" height="33" fill="#f23645"/>
<rect x="737" y="270" width="5" height="24" fill="#f23645"/>
<rect x="746" y="285" width="1" height="77" fill="#f23645"/>
<rect x="744" y="293" width="5" height="44" fill="#f23645"/>
<rect x="753" y="327" width="1" height="154" fill="#089981"/>
<rect x="751" y="333" width="5" height="4" fill="#089981"/>
<rect x="760" y="329" width="1" height="51" fill="#f23645"/>
<rect x="758" y="333" width="5" height="34" fill="#f23645"/>
<rect x="766" y="350" width="1" height="25" fill="#f23645"/>
<rect x="764" y="366" width="5" height="6" fill="#f23645"/>
<rect x="773" y="355" width="1" height="33" fill="#f23645"/>
<rect x="771" y="371" width="5" height="14" fill="#f23645"/>
<rect x="780" y="361" width="1" height="31" fill="#089981"/>
<rect x="778" y="383" width="5" height="1" fill="#089981"/>
<rect x="786" y="378" width="1" height="18" fill="#f23645"/>
<rect x="784" y="383" width="5" height="5" fill="#f23645"/>
<rect x="793" y="379" width="1" height="32" fill="#f23645"/>
<rect x="791" y="387" width="5" height="10" fill="#f23645"/>
<rect x="800" y="375" width="1" height="30" fill="#089981"/>
<rect x="798" y="381" width="5" height="16" fill="#089981"/>
<rect x="807" y="328" width="1" height="54" fill="#089981"/>
<rect x="805" y="349" width="5" height="33" fill="#089981"/>
<rect x="813" y="335" width="1" height="30" fill="#089981"/>
<rect x="811" y="339" width="5" height="11" fill="#089981"/>
<rect x="820" y="324" width="1" height="29" fill="#089981"/>
<rect x="818" y="334" width="5" height="6" fill="#089981"/>
<rect x="827" y="325" width="1" height="19" fill="#f23645"/>
<rect x="825" y="334" width="5" height="6" fill="#f23645"/>
<rect x="833" y="332" width="1" height="19" fill="#f23645"/>
<rect x="831" y="339" width="5" height="10" fill="#f23645"/>
<rect x="840" y="344" width="1" height="13" fill="#f23645"/>
<rect x="838" y="348" width="5" height="5" fill="#f23645"/>
<rect x="847" y="325" width="1" height="28" fill="#089981"/>
<rect x="845" y="334" width="5" height="19" fill="#089981"/>
<rect x="854" y="332" width="1" height="38" fill="#f23645"/>
<rect x="852" y="334" width="5" height="28" fill="#f23645"/>
<rect x="860" y="350" width="1" height="21" fill="#089981"/>
<rect x="858" y="351" width="5" height="11" fill="#089981"/>
<rect x="867" y="333" width="1" height="20" fill="#089981"/>
<rect x="865" y="337" width="5" height="15" fill="#089981"/>
<rect x="874" y="330" width="1" height="33" fill="#f23645"/>
<rect x="872" y="337" width="5" height="21" fill="#f23645"/>
<rect x="881" y="346" width="1" height="13" fill="#089981"/>
<rect x="879" y="352" width="5" height="6" fill="#089981"/>
<rect x="887" y="344" width="1" height="14" fill="#f23645"/>
<rect x="885" y="352" width="5" height="1" fill="#f23645"/>
<rect x="894" y="350" width="1" height="51" fill="#f23645"/>
<rect x="892" y="353" width="5" height="44" fill="#f23645"/>
<rect x="901" y="389" width="1" height="32" fill="#089981"/>
<rect x="899" y="395" width="5" height="1" fill="#089981"/>
<rect x="907" y="389" width="1" height="31" fill="#f23645"/>
<rect x="905" y="395" width="5" height="18" fill="#f23645"/>
<rect x="914" y="397" width="1" height="26" fill="#f23645"/>
<rect x="912" y="412" width="5" height="2" fill="#f23645"/>
<rect x="921" y="413" width="1" height="32" fill="#f23645"/>
<rect x="919" y="413" width="5" height="7" fill="#f23645"/>
<rect x="928" y="398" width="1" height="25" fill="#089981"/>
<rect x="926" y="407" width="5" height="13" fill="#089981"/>
<rect x="934" y="170" width="1" height="243" fill="#089981"/>
<rect x="932" y="177" width="5" height="231" fill="#089981"/>
<rect x="941" y="158" width="1" height="170" fill="#f23645"/>
<rect x="939" y="177" width="5" height="135" fill="#f23645"/>
<rect x="948" y="263" width="1" height="96" fill="#089981"/>
<rect x="946" y="271" width="5" height="41" fill="#089981"/>
<rect x="954" y="250" width="1" height="34" fill="#089981"/>
<rect x="952" y="267" width="5" height="5" fill="#089981"/>
</g>
<text x="1780.5" y="101.8" fill="#b2b5be" font-size="12" font-weight="normal" textLength="35.5" lengthAdjust="spacingAndGlyphs" stroke="#b2b5be" stroke-width="0.22">1.3000</text>
<text x="1780.5" y="149.9" fill="#b2b5be" font-size="12" font-weight="normal" textLength="35.5" lengthAdjust="spacingAndGlyphs" stroke="#b2b5be" stroke-width="0.22">1.2000</text>
<text x="1780.5" y="198.1" fill="#b2b5be" font-size="12" font-weight="normal" textLength="35.5" lengthAdjust="spacingAndGlyphs" stroke="#b2b5be" stroke-width="0.22">1.1000</text>
<text x="1780.5" y="246.2" fill="#b2b5be" font-size="12" font-weight="normal" textLength="35.5" lengthAdjust="spacingAndGlyphs" stroke="#b2b5be" stroke-width="0.22">1.0000</text>
<text x="1780.5" y="294.4" fill="#b2b5be" font-size="12" font-weight="normal" textLength="35.5" lengthAdjust="spacingAndGlyphs" stroke="#b2b5be" stroke-width="0.22">0.9000</text>
<text x="1780.5" y="342.6" fill="#b2b5be" font-size="12" font-weight="normal" textLength="35.5" lengthAdjust="spacingAndGlyphs" stroke="#b2b5be" stroke-width="0.22">0.8000</text>
<text x="1780.5" y="390.7" fill="#b2b5be" font-size="12" font-weight="normal" textLength="35.5" lengthAdjust="spacingAndGlyphs" stroke="#b2b5be" stroke-width="0.22">0.7000</text>
<text x="1780.5" y="438.9" fill="#b2b5be" font-size="12" font-weight="normal" textLength="35.5" lengthAdjust="spacingAndGlyphs" stroke="#b2b5be" stroke-width="0.22">0.6000</text>
<text x="1780.5" y="487.0" fill="#b2b5be" font-size="12" font-weight="normal" textLength="35.5" lengthAdjust="spacingAndGlyphs" stroke="#b2b5be" stroke-width="0.22">0.5000</text>
<text x="1780.5" y="535.1" fill="#b2b5be" font-size="12" font-weight="normal" textLength="35.5" lengthAdjust="spacingAndGlyphs" stroke="#b2b5be" stroke-width="0.22">0.4000</text>
<text x="1780.5" y="583.3" fill="#b2b5be" font-size="12" font-weight="normal" textLength="35.5" lengthAdjust="spacingAndGlyphs" stroke="#b2b5be" stroke-width="0.22">0.3000</text>
<text x="1779.5" y="621.8" fill="#b2b5be" font-size="12" font-weight="normal" textLength="30.5" lengthAdjust="spacingAndGlyphs" stroke="#b2b5be" stroke-width="0.22">80.00</text>
<text x="1779.5" y="652.0" fill="#b2b5be" font-size="12" font-weight="normal" textLength="30.5" lengthAdjust="spacingAndGlyphs" stroke="#b2b5be" stroke-width="0.22">40.00</text>
<text x="1779.5" y="707.5" fill="#b2b5be" font-size="12" font-weight="normal" textLength="36.0" lengthAdjust="spacingAndGlyphs" stroke="#b2b5be" stroke-width="0.22">0.0000</text>
<rect x="1739" y="77" width="32" height="17" rx="2" fill="#d9d9d9"/>
<text x="1743.5" y="89.6" fill="#131722" font-size="12" font-weight="normal" textLength="23.0" lengthAdjust="spacingAndGlyphs" stroke="#131722" stroke-width="0.22">High</text>
<rect x="1772" y="77" width="49" height="17" rx="2" fill="#d9d9d9"/>
<text x="1780.5" y="89.6" fill="#131722" font-size="12" font-weight="normal" textLength="35.5" lengthAdjust="spacingAndGlyphs" stroke="#131722" stroke-width="0.22">1.3264</text>
<rect x="1741" y="565" width="30" height="17" rx="2" fill="#d9d9d9"/>
<text x="1745.5" y="577.6" fill="#131722" font-size="12" font-weight="normal" textLength="21.0" lengthAdjust="spacingAndGlyphs" stroke="#131722" stroke-width="0.22">Low</text>
<rect x="1772" y="565" width="49" height="17" rx="2" fill="#d9d9d9"/>
<text x="1780.5" y="577.6" fill="#131722" font-size="12" font-weight="normal" textLength="35.5" lengthAdjust="spacingAndGlyphs" stroke="#131722" stroke-width="0.22">0.3141</text>
<rect x="1772" y="259" width="49" height="17" rx="2" fill="#089981"/>
<text x="1780.5" y="271.8" fill="#fff" font-size="12" font-weight="bold" textLength="35.5" lengthAdjust="spacingAndGlyphs">0.9478</text>
<rect x="1772" y="308" width="49" height="17" rx="2" fill="#fbe83b"/>
<text x="1780.5" y="320.8" fill="#131722" font-size="12" font-weight="normal" textLength="35.5" lengthAdjust="spacingAndGlyphs" stroke="#131722" stroke-width="0.22">0.8475</text>
<rect x="1772" y="403" width="49" height="17" rx="2" fill="#fbe83b"/>
<text x="1780.5" y="415.8" fill="#131722" font-size="12" font-weight="normal" textLength="35.5" lengthAdjust="spacingAndGlyphs" stroke="#131722" stroke-width="0.22">0.6503</text>
<rect x="1774.5" y="31" width="46.5" height="26.5" rx="4" fill="#0c0c0c" stroke="#2f2f2f" stroke-width="1"/>
<text x="1784.0" y="48.9" fill="#dcdcdc" font-size="12" font-weight="normal" textLength="27.2" lengthAdjust="spacingAndGlyphs" stroke="#dcdcdc" stroke-width="0.22">USDT</text>
<text x="112.7" y="741.0" fill="#b2b5be" font-size="12" font-weight="normal" textLength="19.6" lengthAdjust="spacingAndGlyphs" stroke="#b2b5be" stroke-width="0.22">Nov</text>
<text x="313.7" y="741.0" fill="#b2b5be" font-size="12" font-weight="normal" textLength="19.6" lengthAdjust="spacingAndGlyphs" stroke="#b2b5be" stroke-width="0.22">Dec</text>
<text x="517.8" y="741.0" fill="#b2b5be" font-size="12" font-weight="bold" textLength="27.5" lengthAdjust="spacingAndGlyphs">2025</text>
<text x="730.0" y="741.0" fill="#b2b5be" font-size="12" font-weight="normal" textLength="19.0" lengthAdjust="spacingAndGlyphs" stroke="#b2b5be" stroke-width="0.22">Feb</text>
<text x="919.0" y="741.0" fill="#b2b5be" font-size="12" font-weight="normal" textLength="19.0" lengthAdjust="spacingAndGlyphs" stroke="#b2b5be" stroke-width="0.22">Mar</text>
<text x="1127.9" y="741.0" fill="#b2b5be" font-size="12" font-weight="normal" textLength="17.2" lengthAdjust="spacingAndGlyphs" stroke="#b2b5be" stroke-width="0.22">Apr</text>
<text x="1327.1" y="741.0" fill="#b2b5be" font-size="12" font-weight="normal" textLength="20.9" lengthAdjust="spacingAndGlyphs" stroke="#b2b5be" stroke-width="0.22">May</text>
<text x="1536.6" y="741.0" fill="#b2b5be" font-size="12" font-weight="normal" textLength="17.8" lengthAdjust="spacingAndGlyphs" stroke="#b2b5be" stroke-width="0.22">Jun</text>
<text x="1740.4" y="741.0" fill="#b2b5be" font-size="12" font-weight="normal" textLength="14.1" lengthAdjust="spacingAndGlyphs" stroke="#b2b5be" stroke-width="0.22">Jul</text>
<text x="10.0" y="19.2" fill="#ededed" font-size="12" font-weight="normal" textLength="379.0" lengthAdjust="spacingAndGlyphs" stroke="#ededed" stroke-width="0.22">AMBCrypto_TA published on TradingView.com, Mar 05, 2025 08:59 UTC</text>
<text x="18.0" y="45.9" fill="#d1d4dc" font-size="12" font-weight="normal" textLength="181.3" lengthAdjust="spacingAndGlyphs" stroke="#d1d4dc" stroke-width="0.22">Cardano / TetherUS, 1D, BINANCE</text>
<text x="206.8" y="45.9" fill="#d1d4dc" font-size="12" font-weight="normal" textLength="8.0" lengthAdjust="spacingAndGlyphs" stroke="#d1d4dc" stroke-width="0.22">O</text>
<text x="215.0" y="45.9" fill="#089981" font-size="12" font-weight="normal" textLength="35.3" lengthAdjust="spacingAndGlyphs" stroke="#089981" stroke-width="0.22">0.9409</text>
<text x="257.8" y="45.9" fill="#d1d4dc" font-size="12" font-weight="normal" textLength="7.8" lengthAdjust="spacingAndGlyphs" stroke="#d1d4dc" stroke-width="0.22">H</text>
<text x="265.9" y="45.9" fill="#089981" font-size="12" font-weight="normal" textLength="35.8" lengthAdjust="spacingAndGlyphs" stroke="#089981" stroke-width="0.22">0.9840</text>
<text x="309.5" y="45.9" fill="#d1d4dc" font-size="12" font-weight="normal" textLength="5.1" lengthAdjust="spacingAndGlyphs" stroke="#d1d4dc" stroke-width="0.22">L</text>
<text x="314.6" y="45.9" fill="#089981" font-size="12" font-weight="normal" textLength="35.7" lengthAdjust="spacingAndGlyphs" stroke="#089981" stroke-width="0.22">0.9136</text>
<text x="358.1" y="45.9" fill="#d1d4dc" font-size="12" font-weight="normal" textLength="6.9" lengthAdjust="spacingAndGlyphs" stroke="#d1d4dc" stroke-width="0.22">C</text>
<text x="365.2" y="45.9" fill="#089981" font-size="12" font-weight="normal" textLength="35.8" lengthAdjust="spacingAndGlyphs" stroke="#089981" stroke-width="0.22">0.9478</text>
<text x="408.8" y="45.9" fill="#089981" font-size="12" font-weight="normal" textLength="90.5" lengthAdjust="spacingAndGlyphs" stroke="#089981" stroke-width="0.22">+0.0069 (+0.73%)</text>
<text x="507.4" y="45.9" fill="#089981" font-size="12" font-weight="normal" textLength="90.6" lengthAdjust="spacingAndGlyphs" stroke="#089981" stroke-width="0.22">+0.0069 (+0.73%)</text>
<text x="18.5" y="622.6" fill="#d1d4dc" font-size="12" font-weight="normal" textLength="14.3" lengthAdjust="spacingAndGlyphs" stroke="#d1d4dc" stroke-width="0.22">RSI</text>
<text x="41.7" y="622.6" fill="#7e57c2" font-size="12" font-weight="normal" textLength="29.1" lengthAdjust="spacingAndGlyphs" stroke="#7e57c2" stroke-width="0.22">57.70</text>
<text x="78.6" y="622.6" fill="#d1d4dc" font-size="12" font-weight="normal" textLength="7.5" lengthAdjust="spacingAndGlyphs" stroke="#d1d4dc" stroke-width="0.22">∅</text>
<text x="93.7" y="622.6" fill="#d1d4dc" font-size="12" font-weight="normal" textLength="7.4" lengthAdjust="spacingAndGlyphs" stroke="#d1d4dc" stroke-width="0.22">∅</text>
<text x="18.0" y="682.7" fill="#d1d4dc" font-size="12" font-weight="normal" textLength="29.6" lengthAdjust="spacingAndGlyphs" stroke="#d1d4dc" stroke-width="0.22">MACD</text>
<text x="55.2" y="682.7" fill="#26a69a" font-size="12" font-weight="normal" textLength="35.8" lengthAdjust="spacingAndGlyphs" stroke="#26a69a" stroke-width="0.22">0.0339</text>
<text x="99.0" y="682.7" fill="#2962ff" font-size="12" font-weight="normal" textLength="35.1" lengthAdjust="spacingAndGlyphs" stroke="#2962ff" stroke-width="0.22">0.0197</text>
<text x="142.4" y="682.7" fill="#ff6d00" font-size="12" font-weight="normal" textLength="41.1" lengthAdjust="spacingAndGlyphs" stroke="#ff6d00" stroke-width="0.22">−0.0142</text>
<path fill="#e3e3e3" d="M10 763.2H17.9V772.8H13.9V766.4H10Z"/>
<circle cx="20.9" cy="764.7" r="1.7" fill="#e3e3e3"/>
<path fill="#e3e3e3" d="M25.1 763.2H29.6L25.7 772.8H20.9Z"/>
<text x="33.5" y="772.8" fill="#e3e3e3" font-size="12.5" font-weight="normal" textLength="69.8" lengthAdjust="spacingAndGlyphs" stroke="#e3e3e3" stroke-width="0.3">TradingView</text>
</svg>
</body></html>
